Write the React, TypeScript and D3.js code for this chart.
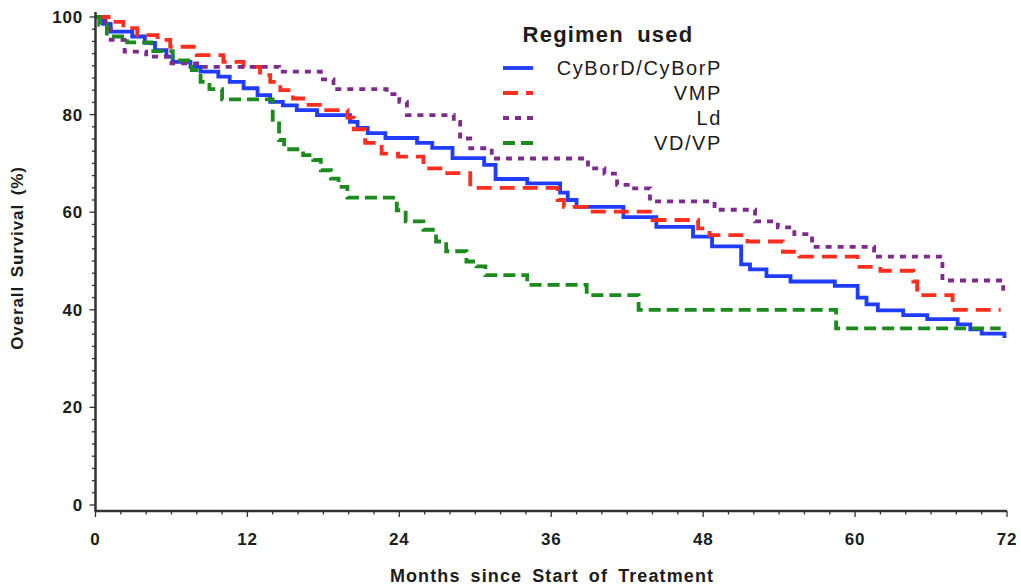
import React from 'react';
import * as d3 from 'd3';

// Kaplan-Meier step points (months, % surviving)
const cyborTime = [0, 0.6, 1.2, 2.9, 3.9, 4.7, 5.6, 6.1, 7.5, 8.3, 9.7, 10.6, 11.7, 12.8, 13.8, 14.8, 15.9, 17.5, 20.1, 20.7, 21.5, 22.9, 25.4, 26.6, 28.2, 30.7, 31.6, 34.1, 36.7, 37.3, 38.0, 41.7, 44.3, 47.2, 48.7, 51.0, 51.7, 53.0, 54.9, 58.4, 60.2, 60.9, 61.8, 63.8, 65.7, 68.1, 69.1, 70.0, 71.8];
const cyborSurv = [100, 98.6, 97.0, 96.0, 94.7, 93.2, 91.9, 90.8, 89.8, 88.8, 87.8, 86.7, 85.4, 84.0, 82.6, 81.9, 80.9, 79.9, 78.5, 77.3, 76.2, 75.2, 74.2, 73.2, 71.1, 69.7, 66.8, 65.9, 64.0, 62.5, 61.1, 59.0, 57.0, 55.0, 53.0, 49.3, 48.3, 46.9, 45.8, 44.9, 42.5, 41.1, 39.9, 38.9, 38.1, 37.0, 36.0, 35.1, 34.2];

const vmpTime = [0, 1.2, 2.2, 3.3, 4.9, 5.9, 8.0, 10.1, 11.7, 13.0, 13.8, 14.6, 15.6, 16.4, 17.9, 19.9, 20.4, 21.3, 22.6, 23.9, 25.9, 27.6, 29.6, 36.5, 37.0, 38.8, 44.0, 47.6, 48.5, 51.5, 54.3, 55.6, 60.2, 62.0, 64.6, 64.9, 67.7, 71.5];
const vmpSurv = [100, 99.0, 97.7, 96.3, 95.3, 93.9, 92.2, 90.8, 89.8, 88.1, 86.7, 85.0, 83.3, 82.0, 80.9, 79.4, 77.0, 74.2, 72.0, 71.4, 69.0, 68.0, 65.0, 62.5, 61.1, 60.1, 58.4, 56.7, 55.3, 54.0, 51.9, 50.9, 48.8, 48.0, 45.8, 43.0, 40.0, 40.0];

const ldTime = [0, 0.8, 1.2, 2.3, 4.0, 6.0, 8.3, 14.5, 17.8, 18.8, 23.0, 24.0, 24.6, 28.3, 28.8, 29.6, 31.3, 38.9, 40.2, 41.2, 42.3, 43.8, 48.9, 52.1, 53.9, 55.2, 56.6, 61.5, 66.9, 71.7];
const ldSurv = [100, 97.5, 95.3, 92.9, 91.9, 90.5, 89.8, 88.8, 87.2, 85.2, 84.2, 82.6, 79.9, 78.5, 75.1, 73.1, 71.0, 69.0, 67.9, 65.6, 64.9, 62.2, 60.5, 58.1, 56.9, 55.5, 52.9, 50.9, 46.0, 43.9];

const vdvpTime = [0, 0.3, 0.9, 2.5, 4.4, 6.1, 7.6, 8.3, 9.0, 10.0, 14.0, 14.5, 14.9, 16.4, 17.2, 17.8, 18.6, 19.2, 19.9, 23.8, 24.5, 25.9, 26.9, 27.7, 29.3, 30.1, 30.8, 34.1, 38.8, 42.9, 58.5, 71.5];
const vdvpSurv = [100, 98.4, 96.0, 94.8, 93.0, 91.1, 89.1, 86.7, 85.2, 83.1, 78.2, 74.8, 72.9, 71.7, 70.7, 68.6, 66.9, 65.2, 63.0, 60.4, 58.1, 56.4, 54.0, 52.0, 49.9, 48.9, 47.1, 45.1, 43.0, 40.0, 36.2, 36.2];

const regimens = ['CyBorD/CyBorP', 'VMP', 'Ld', 'VD/VP'];
const xTickValues = [0, 12, 24, 36, 48, 60, 72];
const yTickValues = [0, 20, 40, 60, 80, 100];

const series = [
    { name: regimens[0], time: cyborTime, surv: cyborSurv, color: '#1f3cff', dash: null },
    { name: regimens[1], time: vmpTime, surv: vmpSurv, color: '#ff2e1f', dash: '15,8' },
    { name: regimens[2], time: ldTime, surv: ldSurv, color: '#7e2a8e', dash: '6,6' },
    { name: regimens[3], time: vdvpTime, surv: vdvpSurv, color: '#1c8a1c', dash: '12,6' },
];

const font = '"Liberation Sans", Arial, Helvetica, sans-serif';
const ink = '#1c1c1c';

export default function App() {
    const width = 1021;
    const height = 585;
    const axisY = 511;

    const x = d3.scaleLinear().domain([0, 72]).range([95.5, 1007]);
    const y = d3.scaleLinear().domain([0, 100]).range([505, 17]);

    const line = d3.line<[number, number]>()
        .x(d => x(d[0]))
        .y(d => y(d[1]))
        .curve(d3.curveStepAfter);

    const xMinor = d3.range(0, 72.01, 2);
    const yMinor = d3.range(0, 100.01, 2.5);

    return (
        <div style={{ position: 'absolute', left: 0, top: 0 }}>
            <svg width={width} height={height} style={{ display: 'block', background: '#fff' }} fontFamily={font}>
                {/* curves */}
                <g fill="none" strokeWidth={3.8} strokeLinejoin="miter" strokeLinecap="butt">
                    {series.map(s => (
                        <path key={s.name}
                            d={line(s.time.map((t, i) => [t, s.surv[i]] as [number, number])) || ''}
                            stroke={s.color}
                            strokeDasharray={s.dash || undefined}/>
                    ))}
                </g>

                {/* axes */}
                <g stroke="#333" fill="none">
                    <line x1={x(0)} x2={x(0)} y1={12} y2={axisY} strokeWidth={2.5}/>
                    <line x1={x(0) - 1} x2={x(72)} y1={axisY} y2={axisY} strokeWidth={2.5}/>
                    {xMinor.map(d => (
                        <line key={'xm' + d} x1={x(d)} x2={x(d)} y1={axisY} y2={axisY + (d % 12 === 0 ? 6 : 3.5)} strokeWidth={1.3}/>
                    ))}
                    {yMinor.map(d => (
                        <line key={'ym' + d} x1={x(0)} x2={x(0) - (d % 20 === 0 ? 6 : 3.5)} y1={y(d)} y2={y(d)} strokeWidth={1.3}/>
                    ))}
                </g>

                <g fill={ink} fontWeight="bold" fontSize={17} letterSpacing={0.8}>
                    {xTickValues.map(d => (
                        <text key={'xt' + d} x={x(d)} y={545} textAnchor="middle">{d}</text>
                    ))}
                    {yTickValues.map(d => (
                        <text key={'yt' + d} x={83} y={y(d) + 6} textAnchor="end">{d}</text>
                    ))}
                </g>

                <text x={552} y={582} textAnchor="middle" fontSize={18} fontWeight="bold" fill={ink} wordSpacing={4} letterSpacing={1.1}>
                    Months since Start of Treatment
                </text>
                <text transform="translate(23,258) rotate(-90)" textAnchor="middle" fontSize={17} fontWeight="bold" fill={ink} wordSpacing={3} letterSpacing={0.9}>
                    Overall Survival (%)
                </text>

                {/* legend */}
                <text x={608} y={42} textAnchor="middle" fontSize={22} fontWeight="bold" fill={ink} wordSpacing={6} letterSpacing={1.2}>Regimen used</text>
                {series.map((s, i) => {
                    const ly = 68 + i * 25;
                    return (
                        <g key={'lg' + s.name}>
                            <line x1={503} x2={533} y1={ly} y2={ly} stroke={s.color} strokeWidth={3.8}
                                strokeDasharray={s.dash || undefined}/>
                            <text x={722} y={ly + 7} textAnchor="end" fontSize={20} fill={ink} letterSpacing={1.6}>{s.name}</text>
                        </g>
                    );
                })}
            </svg>
        </div>
    );
}
